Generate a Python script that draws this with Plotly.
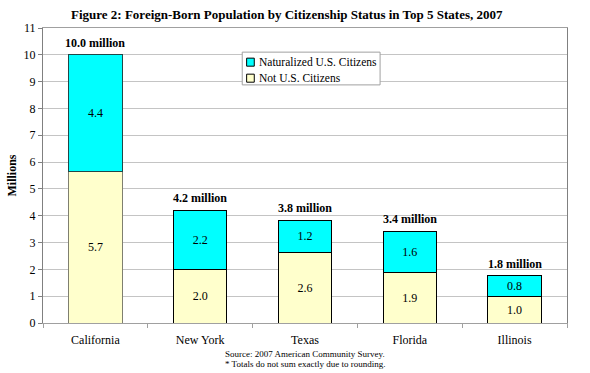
import plotly.graph_objects as go

states = ["California", "New York", "Texas", "Florida", "Illinois"]
not_citizens = [5.65, 2.0, 2.64, 1.87, 0.99]
naturalized = [4.35, 2.21, 1.19, 1.56, 0.78]
not_labels = ["5.7", "2.0", "2.6", "1.9", "1.0"]
nat_labels = ["4.4", "2.2", "1.2", "1.6", "0.8"]
totals = [10.0, 4.2, 3.83, 3.43, 1.77]
total_labels = ["10.0 million", "4.2 million", "3.8 million", "3.4 million", "1.8 million"]
series_names = ["Naturalized U.S. Citizens", "Not U.S. Citizens"]

FONT = "Liberation Serif"
CYAN = "#00FFFF"
CREAM = "#FFFFCC"

fig = go.Figure()
fig.add_trace(go.Bar(
    x=states, y=not_citizens, name=series_names[1], showlegend=False,
    marker=dict(color=CREAM, line=dict(color=["#7F7F70", "#000000", "#000000", "#000000", "#000000"], width=1)),
    text=not_labels, textposition="inside", insidetextanchor="middle",
    textangle=0, textfont=dict(family=FONT, size=12, color="#000000"),
    hoverinfo="skip",
))
fig.add_trace(go.Bar(
    x=states, y=naturalized, name=series_names[0], showlegend=False,
    marker=dict(color=CYAN, line=dict(color=["#204848", "#000000", "#000000", "#000000", "#000000"], width=1)),
    text=nat_labels, textposition="inside", insidetextanchor="middle",
    textangle=0, textfont=dict(family=FONT, size=12, color="#000000"),
    hoverinfo="skip",
))

for s, t, lab in zip(states, totals, total_labels):
    fig.add_annotation(x=s, y=t, text="<b>" + lab + "</b>", showarrow=False,
                       yanchor="bottom", yshift=3,
                       font=dict(family=FONT, size=12, color="#000000"))

# Title
fig.add_annotation(xref="paper", yref="paper", x=0.4666, y=1.0, yshift=14,
                   text="<b>Figure 2: Foreign-Born Population by Citizenship Status in Top 5 States, 2007</b>",
                   showarrow=False, yanchor="middle",
                   font=dict(family=FONT, size=13, color="#000000"))

# Footnotes
fig.add_annotation(xref="paper", yref="paper", x=0.5, y=0, yshift=-31,
                   text="Source: 2007 American Community Survey.", showarrow=False,
                   yanchor="middle", font=dict(family=FONT, size=9, color="#000000"))
fig.add_annotation(xref="paper", yref="paper", x=0.5, y=0, yshift=-41,
                   text="* Totals do not sum exactly due to rounding.", showarrow=False,
                   yanchor="middle", font=dict(family=FONT, size=9, color="#000000"))

# Legend (drawn compactly like the original)
fig.add_shape(type="rect", xref="paper", yref="paper", x0=0.3802, x1=0.6433, y0=0.8071, y1=0.9182,
              fillcolor="white", line=dict(color="#A0A0A0", width=1), layer="above")
legend_rows = [(series_names[0], CYAN, 0.8842), (series_names[1], CREAM, 0.8299)]
for name, col, yc in legend_rows:
    fig.add_shape(type="rect", xref="paper", yref="paper", x0=0.3886, x1=0.4032,
                  y0=yc - 0.0136, y1=yc + 0.0136, fillcolor=col,
                  line=dict(color="#000000", width=1), layer="above")
    fig.add_annotation(xref="paper", yref="paper", x=0.4077, y=yc, text=name,
                       showarrow=False, xanchor="left", yanchor="middle",
                       font=dict(family=FONT, size=11.5, color="#000000"))

fig.update_layout(
    width=590, height=373,
    margin=dict(l=43, r=23, t=28, b=50, autoexpand=False),
    barmode="stack", bargap=0.49,
    paper_bgcolor="white", plot_bgcolor="white",
    font=dict(family=FONT, size=12, color="#000000"),
    showlegend=False,
    xaxis=dict(showline=True, linecolor="#A0A0A0", linewidth=1, mirror=True,
               ticks="outside", tickson="boundaries", ticklen=4, tickcolor="#A0A0A0",
               ticklabelstandoff=6,
               tickfont=dict(family=FONT, size=12), showgrid=False, automargin=False),
    yaxis=dict(range=[0, 11], dtick=1, showline=True, linecolor="#808080", linewidth=1,
               mirror=True, ticks="outside", ticklen=4, tickcolor="#808080",
               gridcolor="#C4C4C4", gridwidth=1, automargin=False,
               tickfont=dict(family=FONT, size=12),
               title=dict(text="<b>Millions</b>", font=dict(family=FONT, size=12), standoff=4)),
)

fig.write_html("out.html", config={"displayModeBar": False},
               post_script="document.body.style.margin='0';")
